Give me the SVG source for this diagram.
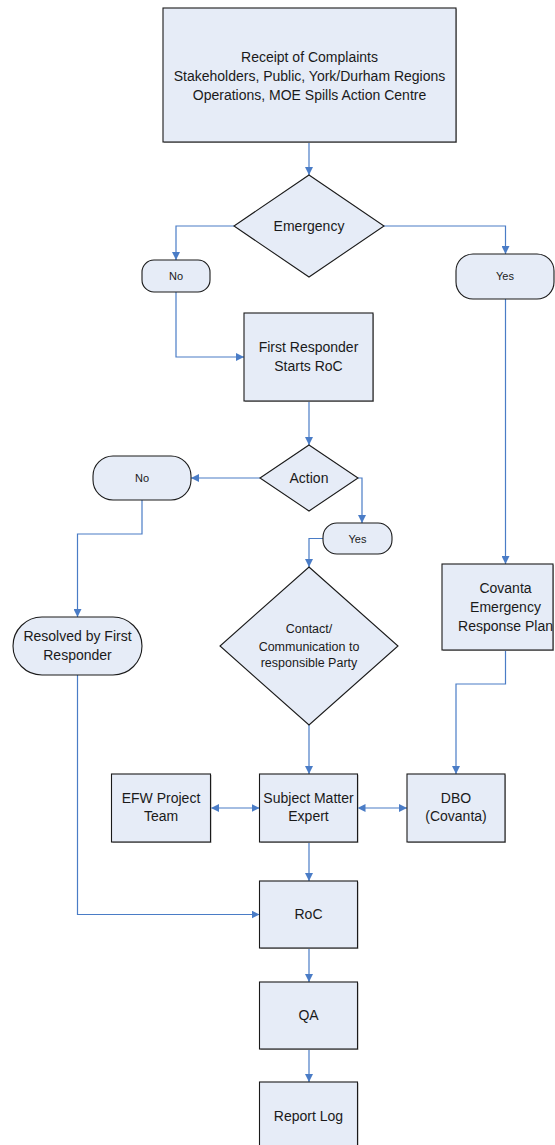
<svg xmlns="http://www.w3.org/2000/svg" width="555" height="1145" viewBox="0 0 555 1145">
  <defs>
    <marker id="arrow" viewBox="0 0 8 8" markerWidth="8" markerHeight="8" refX="8" refY="4" orient="auto-start-reverse" markerUnits="userSpaceOnUse">
      <path d="M0,0 L8,4 L0,8 z" fill="#4a7cc6"/>
    </marker>
  </defs>
  <style>
    .shape { fill: #e6ecf7; stroke: #1a1a1a; stroke-width: 1.1; }
    .shadow { fill: #b4b4b4; stroke: none; }
    .label { font-family: "Liberation Sans", Arial, sans-serif; font-size: 14px; fill: #1a1a1a; text-anchor: middle; }
    .small { font-size: 11px; }
    .mid { font-size: 12.5px; }
    .conn { fill: none; stroke: #4a7cc6; stroke-width: 1.2; marker-end: url(#arrow); }
    .both { marker-start: url(#arrow); }
  </style>

  <g id="connectors">
    <path class="conn" d="M309,142 V175"/>
    <path class="conn" d="M234,226 H176 V260"/>
    <path class="conn" d="M383,226 H505.5 V254"/>
    <path class="conn" d="M176,292 V357 H244"/>
    <path class="conn" d="M309,401 V445"/>
    <path class="conn" d="M260,478 H191"/>
    <path class="conn" d="M357.5,478 H362 V523"/>
    <path class="conn" d="M323,538.5 H309 V567"/>
    <path class="conn" d="M142,500 V534 H77.5 V617"/>
    <path class="conn" d="M505.5,299 V564"/>
    <path class="conn" d="M505.5,650 V684 H456 V774"/>
    <path class="conn" d="M309,724.5 V774"/>
    <path class="conn both" d="M211,808 H259.5"/>
    <path class="conn both" d="M357.5,808 H407"/>
    <path class="conn" d="M309,842 V881"/>
    <path class="conn" d="M77.5,675 V914.5 H259.5"/>
    <path class="conn" d="M309,948 V982"/>
    <path class="conn" d="M309,1049 V1082"/>
  </g>

  <g id="receipt">
    <rect class="shadow" x="164" y="9" width="293" height="134"/>
    <rect class="shape" x="163" y="8" width="293" height="134"/>
    <text class="label" x="309.5" y="61.5">Receipt of Complaints</text>
    <text class="label" x="309.5" y="80.5">Stakeholders, Public, York/Durham Regions</text>
    <text class="label" x="309.5" y="99.5">Operations, MOE Spills Action Centre</text>
  </g>

  <g id="emergency">
    <polygon class="shape" points="309,175 384,226 309,277 234,226"/>
    <text class="label" x="309" y="231">Emergency</text>
  </g>

  <g id="emergency-no">
    <rect class="shape" x="142" y="260" width="68" height="32" rx="12"/>
    <text class="label small" x="176" y="280">No</text>
  </g>

  <g id="emergency-yes">
    <rect class="shape" x="456" y="254" width="98" height="45" rx="17"/>
    <text class="label small" x="505" y="280">Yes</text>
  </g>

  <g id="first-responder">
    <rect class="shadow" x="245" y="314" width="129" height="88"/>
    <rect class="shape" x="244" y="313" width="129" height="88"/>
    <text class="label" x="308.5" y="352">First Responder</text>
    <text class="label" x="308.5" y="371">Starts RoC</text>
  </g>

  <g id="action">
    <polygon class="shape" points="309,445 358,478 309,511 260,478"/>
    <text class="label" x="309" y="483">Action</text>
  </g>

  <g id="action-no">
    <rect class="shape" x="93" y="456" width="98" height="44" rx="20"/>
    <text class="label small" x="142" y="482">No</text>
  </g>

  <g id="action-yes">
    <rect class="shape" x="323" y="523" width="69" height="31" rx="14"/>
    <text class="label small" x="357.5" y="542.5">Yes</text>
  </g>

  <g id="resolved">
    <rect class="shape" x="13" y="617" width="129" height="58" rx="29"/>
    <text class="label" x="77.5" y="641">Resolved by First</text>
    <text class="label" x="77.5" y="660">Responder</text>
  </g>

  <g id="contact">
    <polygon class="shape" points="309,567 398,646 309,725 220,646"/>
    <text class="label mid" x="309" y="632.5">Contact/</text>
    <text class="label mid" x="309" y="650.5">Communication to</text>
    <text class="label mid" x="309" y="667">responsible Party</text>
  </g>

  <g id="covanta-plan">
    <rect class="shadow" x="443" y="565" width="111" height="86"/>
    <rect class="shape" x="442" y="564" width="111" height="86"/>
    <text class="label" x="505.5" y="593">Covanta</text>
    <text class="label" x="505.5" y="612">Emergency</text>
    <text class="label" x="505.5" y="631">Response Plan</text>
  </g>

  <g id="efw-team">
    <rect class="shadow" x="112.5" y="775" width="99" height="68"/>
    <rect class="shape" x="111.5" y="774" width="99" height="68"/>
    <text class="label" x="161" y="803">EFW Project</text>
    <text class="label" x="161" y="821">Team</text>
  </g>

  <g id="subject-expert">
    <rect class="shadow" x="260.5" y="775" width="98" height="68"/>
    <rect class="shape" x="259.5" y="774" width="98" height="68"/>
    <text class="label" x="308.5" y="803">Subject Matter</text>
    <text class="label" x="308.5" y="821">Expert</text>
  </g>

  <g id="dbo">
    <rect class="shadow" x="408" y="775" width="98" height="68"/>
    <rect class="shape" x="407" y="774" width="98" height="68"/>
    <text class="label" x="456" y="803">DBO</text>
    <text class="label" x="456" y="821">(Covanta)</text>
  </g>

  <g id="roc">
    <rect class="shadow" x="260.5" y="882" width="98" height="67"/>
    <rect class="shape" x="259.5" y="881" width="98" height="67"/>
    <text class="label" x="308.5" y="919">RoC</text>
  </g>

  <g id="qa">
    <rect class="shadow" x="260.5" y="983" width="98" height="67"/>
    <rect class="shape" x="259.5" y="982" width="98" height="67"/>
    <text class="label" x="308.5" y="1020">QA</text>
  </g>

  <g id="report-log">
    <rect class="shadow" x="260.5" y="1083" width="98" height="80"/>
    <rect class="shape" x="259.5" y="1082" width="98" height="80"/>
    <text class="label" x="308.5" y="1121">Report Log</text>
  </g>
</svg>
